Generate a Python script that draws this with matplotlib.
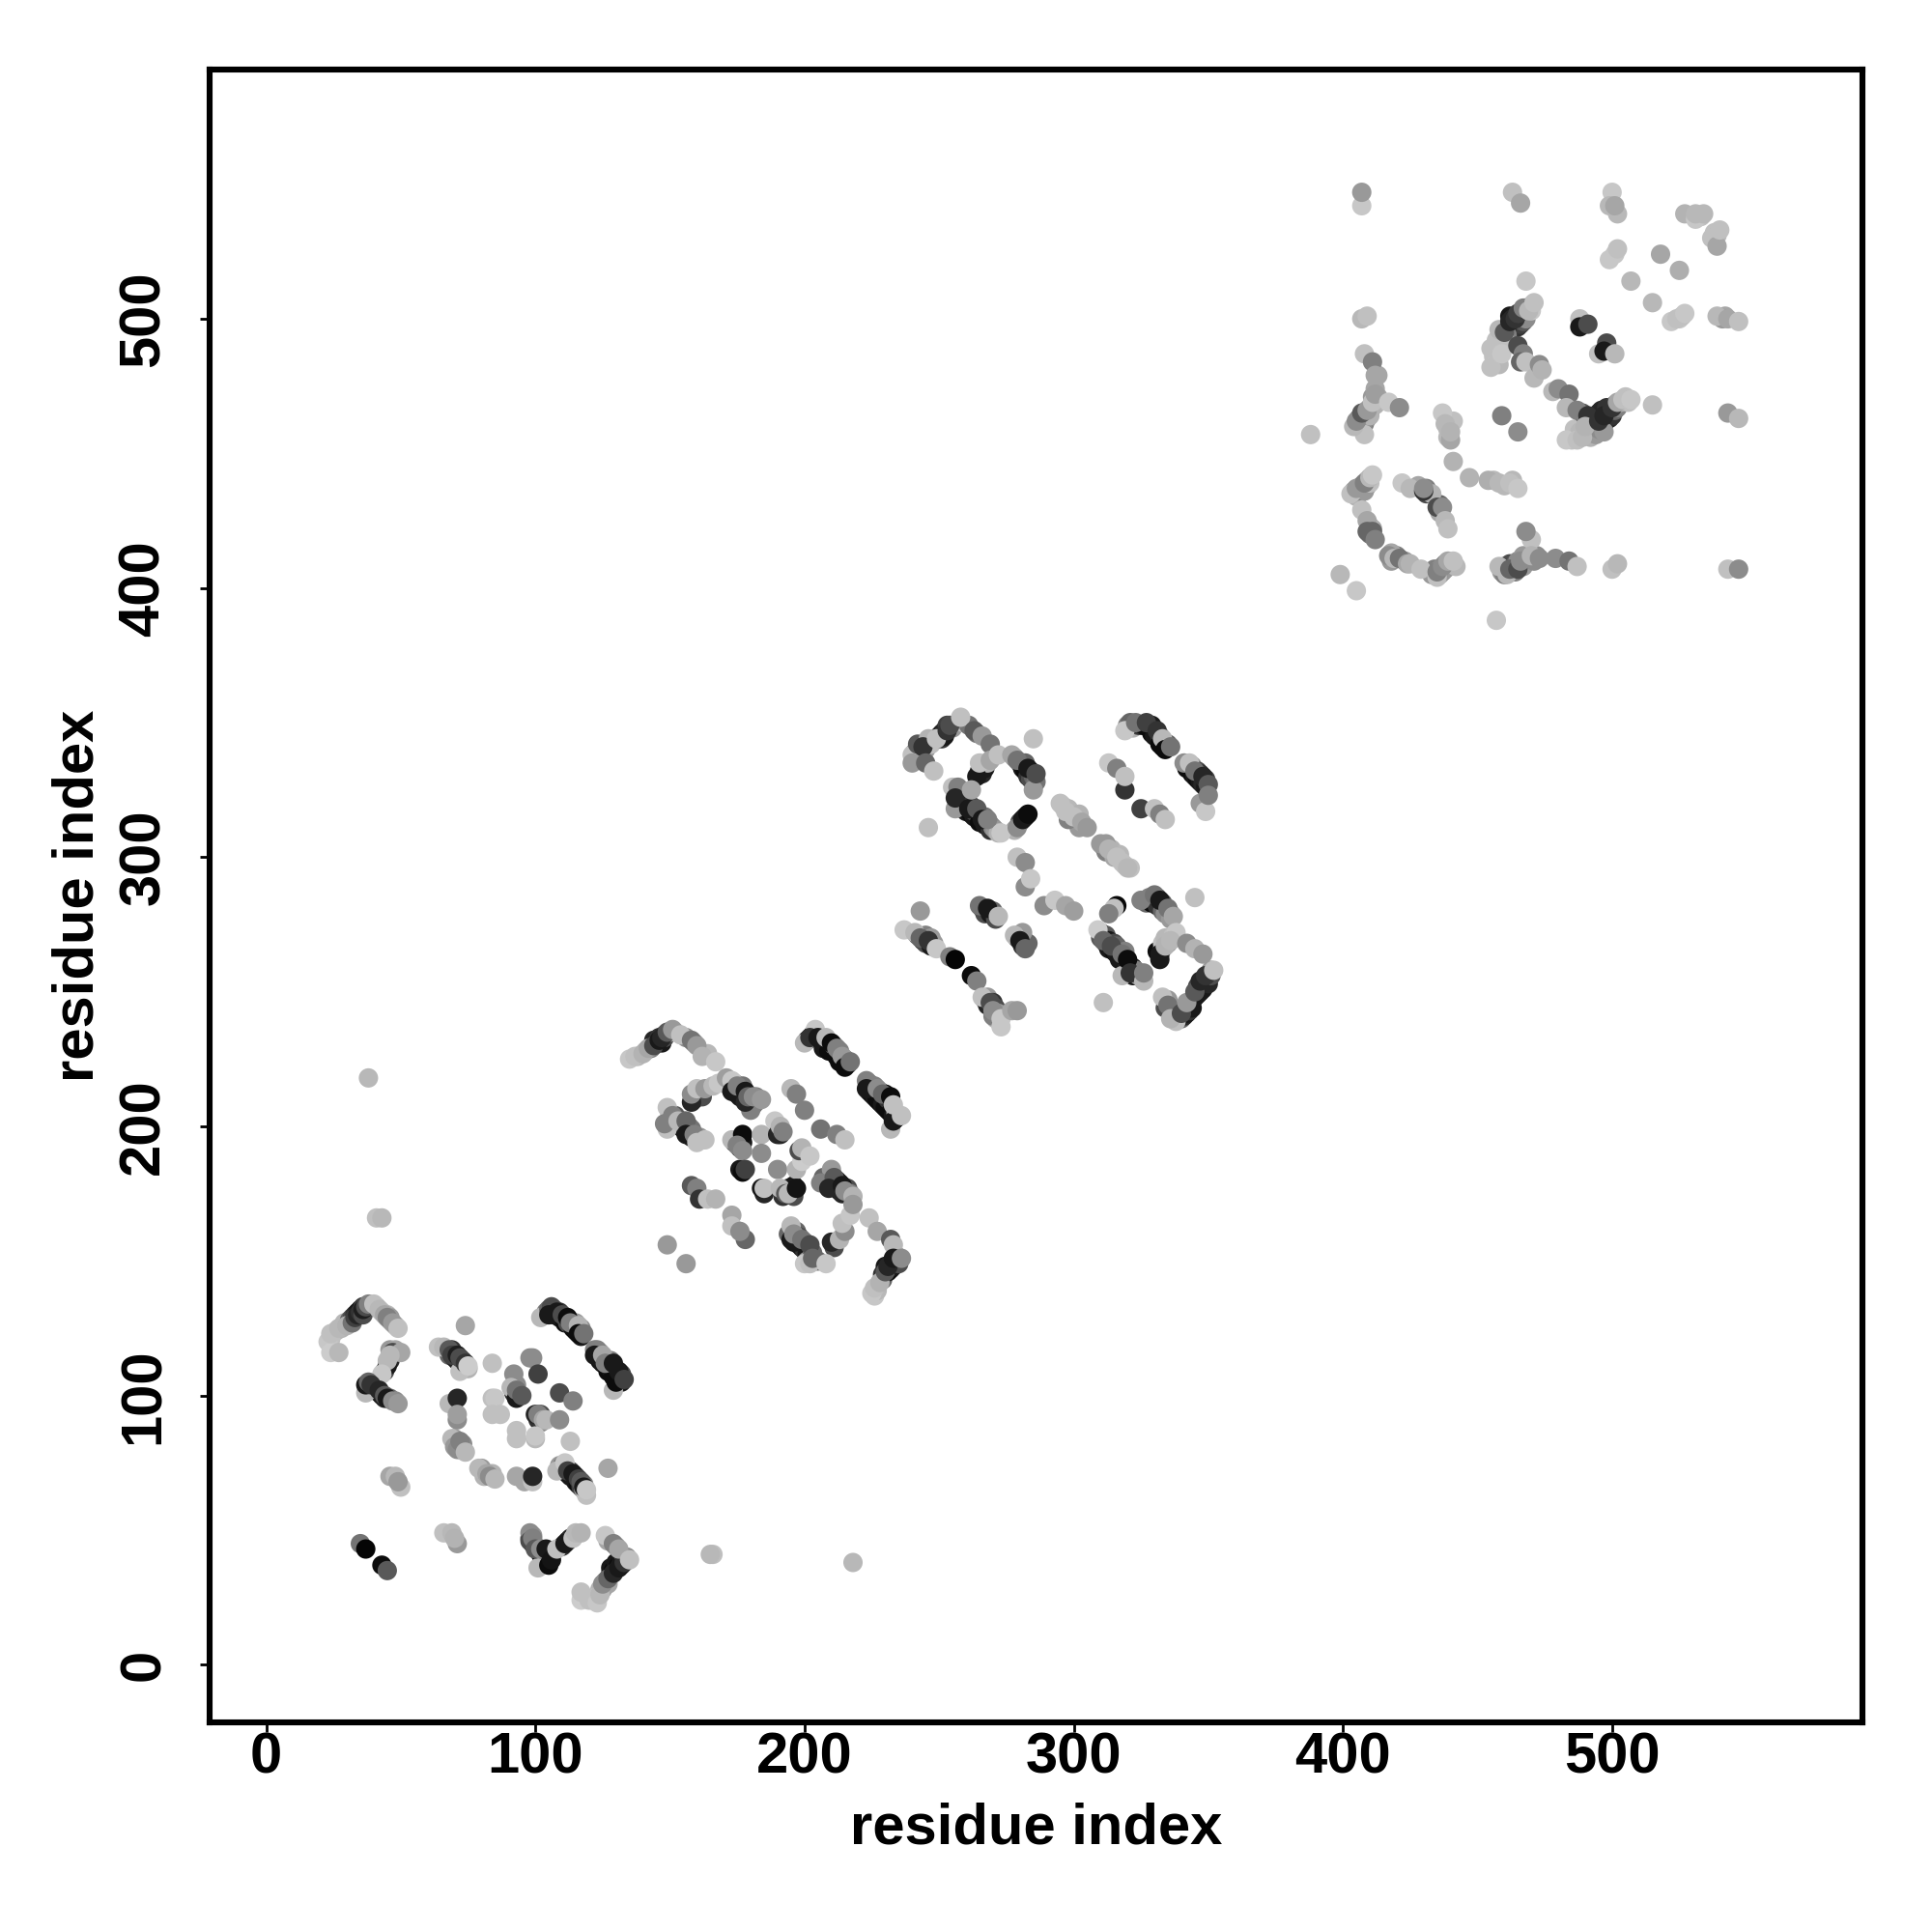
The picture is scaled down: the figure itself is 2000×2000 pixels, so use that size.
import matplotlib
matplotlib.use("Agg")
import matplotlib.pyplot as plt

# (residue i, residue j, grey level)
block_a = [
    (24, 121, .75), (23, 120, .78), (24, 116, .8), (27, 116, .72), (24, 123, .75), (27, 125, .72),
    (30, 126, .7), (32, 127, .45), (33, 129, .25), (34, 130, .15), (35, 131, .2), (36, 130, .3),
    (36, 132, .12), (37, 133, .3), (38, 134, .5), (40, 134, .75), (42, 132, .72), (44, 130, .65),
    (45, 129, .5), (47, 127, .6), (49, 125, .75),
    (47, 116, .3), (50, 116, .65), (46, 115, .72), (45, 111, .1), (45, 113, .72), (43, 108, .78),
    (37, 101, .72), (37, 104, .1), (38, 105, .4), (39, 104, .2), (42, 102, .15), (44, 100, .35),
    (45, 99, .1), (47, 98, .55), (49, 97, .6),
    (64, 118, .75), (66, 118, .72), (72, 109, .75), (68, 117, .35), (69, 115, .25), (71, 115, .12),
    (72, 114, .3), (74, 112, .2), (75, 111, .8), (74, 126, .65), (84, 112, .75),
    (68, 97, .72), (71, 99, .15), (71, 91, .55), (71, 93, .62),
    (69, 84, .72), (70, 81, .6), (71, 80, .55), (72, 83, .5), (74, 79, .72),
    (79, 73, .72), (82, 71, .65), (83, 70, .55), (85, 69, .72),
    (93, 70, .65), (96, 68, .65), (99, 68, .75), (99, 70, .15),
    (84, 99, .75), (85, 99, .78), (84, 93, .75), (87, 93, .75),
    (92, 108, .55), (91, 103, .72), (93, 99, .1), (93, 102, .45), (95, 100, .35),
    (98, 114, .55), (99, 114, .55), (101, 108, .25),
    (100, 93, .15), (101, 93, .5), (103, 91, .65), (104, 91, .72), (109, 91, .55),
    (109, 101, .3), (114, 98, .5),
    (93, 87, .75), (93, 84, .75), (100, 84, .72), (100, 85, .78), (113, 83, .75), (127, 73, .65),
    (108, 72, .72), (111, 75, .78), (119, 63, .75), (112, 72, .25), (114, 71, .1), (116, 69, .25),
    (117, 68, .35), (118, 66, .1), (119, 65, .78),
    (102, 129, .72), (105, 132, .4), (106, 133, .3), (105, 130, .1), (108, 131, .1), (110, 130, .3),
    (112, 129, .05), (113, 127, .5), (116, 126, .7), (116, 123, .05), (118, 123, .45),
    (123, 117, .5), (122, 115, .1), (125, 115, .65), (126, 112, .5), (129, 102, .72), (129, 112, .1),
    (130, 105, .05), (131, 109, .1), (133, 106, .25),
    (46, 70, .65), (48, 70, .72), (50, 66, .75), (49, 68, .6),
    (35, 45, .45), (37, 43, .02), (43, 37, .05), (45, 35, .35),
    (66, 49, .75), (69, 49, .72), (71, 45, .6), (70, 47, .7),
    (98, 49, .55), (98, 46, .3), (99, 47, .5), (101, 36, .72), (100, 43, .35), (102, 43, .55),
    (105, 37, .05), (104, 43, .1), (106, 39, .08),
    (108, 43, .75), (111, 45, .1), (114, 47, .75), (115, 49, .72), (117, 49, .7),
    (117, 24, .8), (117, 27, .75), (120, 24, .75), (123, 23, .78), (124, 26, .72), (125, 30, .55),
    (127, 32, .4), (129, 34, .15), (131, 36, .1), (133, 38, .2),
    (126, 48, .78), (129, 45, .5), (131, 43, .65), (135, 39, .75),
]

# the packed strands, these sit under the block points
strands_a = [
    (26, 124, .72), (28, 125, .7), (29, 127, .72), (31, 127, .55), (31, 128, .4), (32, 129, .3),
    (33, 130, .2), (34, 131, .1), (35, 132, .1), (36, 133, .25), (37, 132, .2), (38, 133, .4),
    (39, 133, .65), (41, 133, .7), (43, 131, .7), (45, 130, .72), (46, 128, .6), (48, 126, .7),
    (46, 129, .6), (38, 102, .6), (40, 103, .15), (41, 102, .1), (42, 101, .2), (43, 100, .1),
    (44, 99, .15), (46, 99, .4), (48, 98, .55), (46, 117, .6), (48, 117, .65), (46, 113, .15),
    (44, 109, .3), (67, 117, .5), (68, 115, .4), (69, 117, .2), (70, 115, .2), (70, 114, .1),
    (71, 113, .1), (72, 112, .15), (73, 113, .25), (74, 111, .4), (73, 110, .3), (75, 110, .7),
    (109, 74, .6), (110, 74, .5), (110, 73, .3), (111, 72, .15), (112, 71, .1), (113, 70, .1),
    (113, 72, .3), (115, 70, .2), (115, 68, .1), (116, 67, .05), (117, 66, .25), (118, 67, .5),
    (118, 65, .6), (104, 131, .5), (106, 131, .1), (107, 130, .05), (107, 132, .35), (109, 131, .2),
    (109, 129, .1), (111, 129, .1), (111, 127, .05), (112, 127, .3), (114, 125, .05), (115, 124, .05),
    (115, 127, .6), (117, 125, .55), (117, 122, .1), (122, 117, .5), (123, 115, .15), (124, 113, .05),
    (124, 116, .6), (125, 112, .1), (127, 111, .15), (127, 109, .05), (128, 110, .1), (129, 107, .05),
    (130, 108, .05), (131, 106, .1), (132, 105, .1), (132, 108, .3), (128, 113, .5),
    (70, 84, .6), (71, 83, .6), (73, 82, .55), (72, 80, .6), (80, 73, .6), (81, 70, .7), (84, 71, .7),
    (94, 100, .1), (92, 101, .2), (93, 104, .55), (102, 90, .55), (102, 93, .3), (101, 91, .2),
    (98, 47, .2), (99, 45, .1), (100, 44, .1), (101, 43, .05), (102, 41, .05), (103, 40, .1),
    (104, 39, .05), (103, 38, .2), (105, 40, .15), (106, 41, .1), (99, 48, .6),
    (128, 34, .3), (128, 36, .1), (129, 35, .05), (130, 36, .05), (130, 38, .1), (131, 37, .05),
    (132, 37, .1), (132, 39, .1), (133, 40, .3), (134, 40, .55), (126, 31, .5), (127, 30, .65),
    (125, 28, .65), (124, 28, .7), (122, 25, .75), (127, 46, .65), (130, 44, .55), (110, 44, .2),
    (112, 46, .1), (113, 47, .15),
]

block_b = [
    (135, 225, .78), (137, 226, .75), (140, 227, .7), (142, 229, .65), (144, 230, .3), (146, 232, .1),
    (147, 233, .15), (149, 235, .35), (151, 236, .6), (154, 234, .75), (158, 232, .45), (160, 230, .6),
    (162, 226, .7), (167, 224, .78),
    (158, 209, .15), (158, 212, .55), (160, 214, .75), (163, 214, .6), (166, 215, .72), (168, 216, .78),
    (171, 218, .62), (173, 217, .78), (173, 213, .1), (175, 215, .5), (180, 206, .5), (178, 213, .1),
    (178, 209, .15), (179, 211, .4), (181, 211, .55), (184, 210, .6),
    (149, 207, .75), (149, 199, .75), (148, 201, .5), (151, 204, .5), (153, 202, .72), (156, 202, .4),
    (156, 197, .1), (159, 197, .5), (160, 194, .75), (163, 195, .75),
    (173, 195, .72), (177, 197, .05), (175, 193, .5), (177, 191, .55), (184, 197, .7), (184, 190, .55),
    (189, 202, .78), (190, 197, .15), (191, 200, .7), (192, 198, .5), (190, 184, .55), (197, 184, .7),
    (199, 187, .8), (198, 191, .3), (199, 192, .7), (202, 189, .78),
    (178, 184, .25), (184, 177, .1), (185, 177, .75), (191, 177, .72), (193, 175, .35), (194, 175, .72),
    (197, 177, .08),
    (158, 178, .35), (160, 177, .5), (161, 173, .2), (164, 173, .75), (167, 173, .7),
    (173, 167, .65), (173, 163, .75), (178, 158, .4), (176, 161, .55), (149, 156, .6), (156, 149, .6),
    (195, 163, .72), (196, 157, .1), (196, 160, .55), (200, 149, .78), (199, 158, .45), (202, 149, .75),
    (202, 156, .3), (203, 151, .4), (208, 149, .78),
    (210, 157, .15), (213, 158, .7), (215, 161, .55), (214, 164, .75), (217, 167, .78),
    (210, 184, .6), (206, 179, .5), (211, 181, .35), (209, 177, .15), (214, 178, .1), (215, 176, .55),
    (218, 174, .7), (218, 171, .6),
    (224, 166, .75), (227, 161, .65), (232, 158, .35), (233, 156, .72),
    (225, 138, .78), (226, 140, .75), (228, 142, .7), (230, 146, .35), (231, 148, .15), (233, 151, .1),
    (236, 151, .55),
    (200, 231, .72), (204, 236, .78), (202, 233, .2), (205, 233, .1), (208, 233, .72), (210, 231, .05),
    (212, 229, .5), (214, 226, .6), (215, 222, .05), (217, 224, .45),
    (223, 217, .5), (223, 214, .1), (227, 214, .55), (229, 212, .4), (232, 199, .72), (232, 211, .05),
    (233, 202, .1), (233, 208, .75), (236, 204, .75),
    (195, 214, .72), (197, 212, .5), (200, 206, .5), (206, 199, .45), (212, 197, .5), (215, 195, .75),
]

strands_b = [
    (138, 226, .72), (141, 228, .7), (143, 229, .5), (144, 232, .15), (145, 231, .1), (146, 233, .2),
    (147, 231, .1), (148, 234, .2), (148, 233, .3), (150, 235, .5), (152, 235, .7), (156, 233, .55),
    (159, 231, .55), (164, 227, .72),
    (172, 215, .3), (174, 213, .05), (174, 216, .5), (175, 212, .15), (176, 214, .2), (176, 211, .1),
    (177, 212, .05), (178, 211, .05), (177, 215, .45), (179, 209, .1), (180, 210, .3), (181, 208, .2),
    (182, 209, .5), (182, 211, .5), (159, 210, .2), (160, 212, .15), (161, 213, .5), (162, 211, .3),
    (150, 203, .3), (152, 201, .15), (154, 200, .05), (155, 199, .1), (155, 202, .4), (157, 198, .1),
    (157, 200, .35), (158, 196, .15), (158, 199, .45), (161, 196, .6), (150, 205, .6), (152, 204, .35),
    (201, 232, .1), (203, 234, .15), (206, 232, .05), (207, 232, .05), (207, 229, .1), (209, 230, .1),
    (209, 228, .05), (211, 228, .05), (211, 230, .5), (212, 226, .05), (213, 224, .05), (213, 228, .5),
    (215, 225, .45), (216, 223, .3),
    (224, 216, .45), (224, 213, .05), (225, 212, .05), (226, 215, .5), (226, 211, .1), (227, 210, .05),
    (228, 213, .5), (228, 209, .05), (229, 208, .1), (230, 207, .05), (231, 206, .05), (231, 210, .2),
    (230, 212, .05), (232, 205, .05), (233, 204, .1), (234, 203, .05), (234, 205, .7),
    (207, 181, .4), (208, 179, .2), (210, 180, .15), (211, 178, .1), (212, 177, .1), (212, 180, .2),
    (213, 176, .1), (213, 179, .1), (214, 175, .15), (216, 177, .3), (217, 175, .5),
    (229, 145, .2), (229, 143, .4), (230, 148, .1), (231, 146, .1), (232, 149, .1), (232, 147, .05),
    (233, 148, .1), (234, 150, .1), (234, 152, .4), (235, 149, .3), (226, 137, .78), (227, 139, .72),
    (194, 160, .4), (195, 158, .1), (197, 158, .05), (197, 161, .4), (198, 156, .1), (198, 159, .3),
    (199, 155, .1), (200, 154, .2), (200, 157, .4), (201, 153, .1), (201, 150, .6), (203, 153, .4),
    (204, 150, .7), (205, 150, .4), (211, 155, .3),
    (174, 194, .3), (176, 192, .2), (177, 194, .1), (176, 184, .1), (177, 183, .05), (185, 175, .15),
    (192, 174, .2), (194, 177, .15), (195, 176, .1), (196, 174, .3), (196, 178, .1), (191, 199, .3),
    (191, 197, .15),
]

block_c = [
    (240, 338, .75), (242, 342, .35), (240, 335, .6), (246, 344, .7), (244, 341, .2), (245, 335, .4),
    (248, 332, .75), (249, 344, .75), (253, 347, .2), (254, 349, .3), (258, 352, .75), (263, 347, .35),
    (266, 345, .6), (269, 342, .45),
    (264, 330, .1), (265, 335, .75), (269, 336, .65), (272, 338, .75), (277, 338, .65), (279, 336, .45),
    (285, 325, .6), (283, 333, .1), (286, 331, .3), (285, 344, .75),
    (255, 326, .75), (256, 318, .6), (257, 326, .5), (256, 322, .15), (261, 318, .1), (262, 325, .65),
    (264, 318, .35), (266, 314, .1), (268, 314, .5), (273, 309, .78),
    (279, 311, .55), (281, 314, .1), (283, 316, .05), (246, 311, .75),
    (295, 320, .75), (297, 317, .75), (300, 315, .75), (303, 313, .65), (305, 311, .6),
    (310, 305, .6), (313, 303, .7), (316, 300, .75), (320, 296, .72),
    (279, 300, .75), (282, 298, .55), (282, 289, .55), (284, 292, .78), (289, 282, .55), (293, 284, .78),
    (297, 282, .65), (300, 280, .62),
    (243, 280, .6), (237, 273, .78), (241, 272, .72), (243, 270, .4), (246, 269, .2), (249, 266, .78),
    (254, 263, .5), (256, 262, .02), (262, 256, .05), (264, 254, .5),
    (266, 248, .75), (269, 246, .3), (270, 243, .55), (273, 237, .78), (273, 240, .78), (277, 243, .65),
    (279, 243, .6),
    (265, 282, .45), (268, 281, .1), (272, 278, .72), (278, 271, .72), (280, 269, .1), (282, 266, .4),
    (319, 347, .78), (323, 350, .45), (327, 350, .25), (331, 347, .2), (333, 344, .72), (334, 340, .05),
    (336, 341, .45),
    (341, 335, .55), (343, 335, .75), (345, 332, .45), (347, 320, .6), (349, 317, .78), (348, 330, .15),
    (350, 327, .35), (350, 323, .5),
    (313, 335, .78), (316, 333, .5), (319, 325, .2), (319, 330, .75),
    (325, 318, .25), (330, 318, .75), (332, 316, .5), (334, 314, .75),
    (325, 284, .5), (330, 286, .45), (332, 284, .1), (335, 281, .45), (337, 278, .65), (338, 272, .78),
    (345, 285, .75),
    (316, 282, .03), (315, 281, .75), (313, 279, .5), (309, 273, .8), (311, 269, .4), (314, 267, .3),
    (318, 264, .45), (318, 256, .72), (320, 262, .05), (321, 257, .2), (326, 254, .72), (326, 257, .5),
    (332, 264, .1), (334, 267, .7), (336, 269, .72), (342, 268, .55), (345, 266, .7), (348, 264, .6),
    (333, 248, .75), (335, 245, .45), (338, 239, .75), (336, 240, .7), (340, 242, .3), (342, 246, .6),
    (345, 250, .35), (347, 254, .15), (349, 256, .2), (352, 258, .75), (311, 246, .75),
]

strands_c = [
    (241, 339, .5), (241, 337, .2), (242, 336, .4), (243, 339, .15), (243, 337, .5), (245, 340, .6),
    (247, 342, .75), (250, 345, .35), (251, 346, .1), (251, 344, .2), (252, 345, .1), (252, 347, .15),
    (253, 349, .25), (255, 348, .6), (259, 350, .75), (261, 349, .45), (264, 346, .45),
    (257, 322, .1), (258, 321, .05), (259, 321, .15), (259, 319, .05), (260, 320, .2), (260, 317, .1),
    (262, 316, .05), (262, 319, .2), (263, 315, .1), (263, 317, .3), (265, 316, .35), (265, 313, .05),
    (267, 312, .1), (267, 315, .45), (269, 312, .5), (269, 310, .2), (270, 311, .55), (271, 310, .6),
    (272, 309, .7),
    (280, 335, .3), (281, 333, .1), (282, 332, .05), (282, 335, .4), (283, 330, .2), (284, 332, .1),
    (284, 329, .3), (285, 330, .4), (286, 328, .45), (278, 337, .55), (265, 332, .2), (266, 331, .15),
    (266, 334, .6), (267, 333, .1), (268, 335, .7), (280, 313, .3), (282, 315, .1), (278, 310, .7),
    (320, 349, .5), (321, 350, .4), (322, 348, .7), (324, 349, .25), (325, 349, .2), (326, 349, .05),
    (328, 348, .05), (329, 349, .1), (329, 346, .05), (330, 345, .1), (332, 345, .2), (332, 342, .05),
    (333, 341, .05), (335, 342, .35),
    (342, 333, .05), (344, 331, .05), (344, 334, .6), (345, 330, .1), (346, 329, .05), (346, 332, .3),
    (347, 328, .1), (347, 331, .2), (348, 327, .15), (349, 326, .1), (349, 329, .25),
    (266, 281, .3), (267, 279, .3), (269, 279, .1), (270, 280, .4), (271, 277, .3), (279, 270, .4),
    (281, 267, .2), (283, 268, .4), (281, 272, .6),
    (310, 272, .2), (310, 270, .35), (312, 268, .1), (312, 271, .35), (313, 266, .1), (313, 269, .1),
    (315, 265, .05), (315, 268, .3), (316, 264, .1), (316, 267, .4), (317, 262, .1), (319, 261, .1),
    (319, 265, .5), (320, 259, .15), (322, 259, .1), (322, 256, .1), (323, 258, .5), (324, 256, .6),
    (327, 283, .4), (328, 285, .5), (329, 283, .05), (331, 285, .3), (331, 282, .2), (333, 283, .35),
    (333, 280, .4), (334, 279, .55), (336, 279, .5), (336, 277, .6),
    (331, 265, .05), (333, 266, .6), (332, 262, .1), (333, 268, .75), (335, 268, .55), (334, 270, .72),
    (337, 271, .75),
    (340, 240, .4), (341, 241, .15), (341, 244, .5), (342, 242, .1), (343, 245, .3), (343, 243, .2),
    (344, 247, .2), (344, 244, .1), (345, 248, .1), (346, 249, .1), (346, 252, .3), (347, 250, .1),
    (348, 253, .15), (348, 251, .1), (350, 255, .2), (350, 253, .15), (351, 256, .3), (351, 258, .6),
    (337, 243, .5), (334, 244, .3), (335, 247, .6),
    (242, 271, .3), (244, 269, .15), (245, 271, .5), (245, 268, .3), (247, 267, .1), (247, 270, .6),
    (248, 268, .6), (267, 247, .3), (268, 245, .15), (268, 248, .6), (270, 246, .2), (271, 244, .3),
    (272, 242, .6), (271, 240, .7), (270, 241, .5),
    (296, 319, .7), (298, 318, .72), (299, 315, .6), (301, 314, .72), (302, 316, .7), (302, 311, .6),
    (311, 304, .6), (312, 302, .5), (314, 303, .7), (315, 300, .65), (317, 301, .72), (318, 298, .75),
    (319, 297, .75), (321, 296, .75), (298, 314, .5), (312, 305, .6),
]

block_d = [
    (407, 542, .78), (407, 547, .6), (463, 547, .75), (466, 543, .65),
    (500, 547, .78), (502, 539, .72), (499, 542, .72), (501, 542, .65),
    (527, 539, .7), (531, 537, .78), (531, 539, .72), (534, 539, .72), (537, 530, .75), (539, 527, .65),
    (540, 533, .75),
    (499, 522, .78), (501, 524, .78), (502, 526, .75), (518, 524, .65), (525, 518, .68), (507, 514, .72),
    (515, 506, .72), (468, 514, .78), (522, 499, .78), (524, 500, .75), (527, 502, .78),
    (539, 501, .72), (543, 500, .65), (547, 499, .75), (407, 500, .72), (409, 501, .75),
    (408, 487, .75), (411, 484, .5), (412, 479, .65),
    (408, 457, .75), (404, 460, .72), (405, 462, .55), (407, 465, .35), (409, 466, .6), (411, 469, .75),
    (412, 472, .62), (417, 469, .78), (421, 467, .55), (388, 457, .75),
    (455, 482, .75), (455, 489, .75), (458, 496, .72), (459, 487, .78), (460, 495, .35), (462, 499, .15),
    (464, 500, .2), (465, 502, .25), (467, 504, .5), (469, 503, .72), (471, 506, .75),
    (465, 490, .3), (467, 487, .5), (466, 484, .4), (468, 484, .75), (471, 478, .72), (473, 483, .55),
    (474, 481, .7),
    (488, 500, .75), (488, 497, .1), (491, 498, .3), (495, 487, .75), (498, 491, .3), (497, 488, .1),
    (501, 487, .72),
    (478, 473, .72), (480, 474, .55), (484, 472, .45), (483, 467, .72), (487, 466, .5), (491, 464, .2),
    (483, 455, .78), (487, 455, .75), (489, 456, .72), (490, 460, .7), (497, 458, .6),
    (495, 462, .2), (497, 464, .15), (500, 467, .2), (502, 469, .65), (504, 470, .75), (507, 470, .78),
    (515, 468, .75), (459, 464, .5), (465, 458, .55), (543, 465, .6), (547, 463, .72),
    (437, 465, .78), (438, 461, .72), (440, 455, .65), (440, 458, .7), (441, 447, .7), (447, 441, .7),
    (454, 440, .68), (458, 439, .72), (462, 439, .75), (465, 437, .78),
    (403, 435, .75), (405, 437, .6), (408, 439, .5), (410, 441, .72), (411, 442, .78),
    (422, 439, .78), (425, 437, .72), (430, 436, .2), (430, 437, .55),
    (435, 430, .3), (437, 430, .55), (438, 425, .72), (439, 422, .75),
    (407, 429, .75), (409, 425, .65), (409, 421, .4), (411, 421, .4), (412, 418, .5),
    (417, 412, .55), (419, 411, .72), (421, 411, .45), (424, 409, .65), (425, 409, .7), (429, 407, .75),
    (435, 404, .75), (435, 406, .5), (437, 408, .55), (439, 410, .65), (441, 410, .75),
    (399, 405, .72), (405, 399, .78), (457, 388, .78),
    (458, 408, .72), (461, 405, .72), (462, 407, .4), (465, 407, .3), (466, 410, .55), (470, 418, .75),
    (468, 421, .55), (470, 412, .7), (473, 411, .55),
    (479, 411, .55), (484, 410, .45), (487, 408, .75), (500, 407, .75), (502, 409, .72),
    (543, 407, .75), (547, 407, .55),
]

strands_d = [
    (462, 501, .1), (463, 497, .15), (463, 500, .15), (464, 498, .1), (465, 497, .2), (465, 500, .3),
    (466, 498, .25), (466, 501, .45), (467, 499, .35), (468, 502, .6), (468, 500, .55), (470, 505, .75),
    (470, 503, .78), (461, 496, .2), (461, 494, .5), (460, 493, .7), (457, 492, .75), (456, 486, .75),
    (457, 484, .78), (458, 483, .72), (459, 491, .75), (457, 488, .75),
    (493, 463, .2), (494, 464, .15), (494, 461, .2), (495, 465, .2), (496, 463, .1), (496, 466, .15),
    (497, 461, .3), (498, 465, .1), (498, 467, .2), (499, 463, .15), (499, 466, .2), (500, 464, .2),
    (501, 468, .4), (501, 466, .4), (502, 467, .5), (503, 469, .7), (505, 471, .75), (506, 469, .75),
    (492, 456, .7), (492, 459, .6), (494, 457, .6), (495, 459, .55), (485, 455, .75), (486, 459, .75),
    (488, 458, .72), (491, 462, .3), (489, 465, .35),
    (405, 461, .45), (406, 463, .3), (406, 460, .6), (407, 462, .25), (408, 464, .35), (408, 461, .5),
    (409, 463, .55), (410, 465, .55), (410, 467, .65), (411, 471, .6), (412, 474, .65), (413, 471, .65),
    (413, 479, .65), (412, 468, .7), (410, 464, .7),
    (404, 436, .65), (405, 435, .55), (405, 434, .7), (406, 437, .5), (406, 435, .55), (407, 436, .5),
    (407, 438, .5), (408, 436, .6), (409, 438, .6), (409, 440, .7), (410, 439, .75),
    (459, 406, .6), (460, 408, .45), (460, 405, .5), (461, 407, .35), (462, 409, .3), (463, 406, .3),
    (463, 408, .25), (464, 409, .35), (464, 406, .5), (465, 410, .55), (467, 408, .6), (467, 412, .6),
    (469, 411, .55), (471, 410, .55), (472, 412, .55),
    (433, 405, .6), (434, 407, .5), (436, 407, .55), (436, 405, .65), (437, 406, .6), (438, 409, .55),
    (438, 407, .6), (440, 409, .7), (442, 408, .72), (423, 410, .6), (420, 412, .5), (418, 410, .6),
    (418, 413, .65), (411, 422, .65), (410, 423, .7), (410, 420, .45), (429, 437, .5), (431, 435, .3),
    (431, 437, .5), (428, 438, .65), (436, 431, .4), (436, 428, .65), (433, 435, .7),
    (439, 459, .72), (439, 456, .72), (441, 462, .75), (456, 440, .72), (460, 438, .72), (463, 440, .72),
    (525, 500, .78), (526, 501, .75), (533, 538, .75), (538, 532, .75), (539, 531, .72), (542, 501, .65),
    (541, 500, .6),
]

# stray contacts between the domains
strays = [
    (38, 218, .72), (41, 166, .75), (43, 166, .72),
    (166, 41, .75), (165, 41, .72), (218, 38, .72),
]

tick_values = [0, 100, 200, 300, 400, 500]

plt.rcParams["font.family"] = ["Liberation Sans", "DejaVu Sans"]
plt.rcParams["font.weight"] = "bold"

fig = plt.figure(figsize=(10, 10), dpi=200)
ax = fig.add_axes([217 / 2000, 1 - 1783 / 2000, (1928 - 217) / 2000, (1783 - 72) / 2000])

for block in [strands_a, block_a, strands_b, block_b, strands_c, block_c, strands_d, block_d, strays]:
    xs = [p[0] for p in block]
    ys = [p[1] for p in block]
    greys = [p[2] for p in block]
    ax.scatter(xs, ys, c=greys, cmap="gray", vmin=0, vmax=1, s=52, linewidths=0, zorder=2)

ax.set_xlim(-21, 593)
ax.set_ylim(-21.4, 592.6)
ax.set_xticks(tick_values)
ax.set_yticks(tick_values)
ax.tick_params(axis="x", length=3.5, width=1.0, labelsize=21.5, pad=0)
ax.tick_params(axis="y", length=3.5, width=1.0, labelsize=21.5, pad=11)
for label in ax.get_yticklabels():
    label.set_rotation(90)
    label.set_va("center")
for side in ax.spines.values():
    side.set_linewidth(2.2)

ax.set_xlabel("residue index", fontsize=21.5, fontweight="bold", labelpad=6.5)
ax.set_ylabel("residue index", fontsize=21.5, fontweight="bold", labelpad=4.8)

fig.savefig("out.png", dpi=200)
